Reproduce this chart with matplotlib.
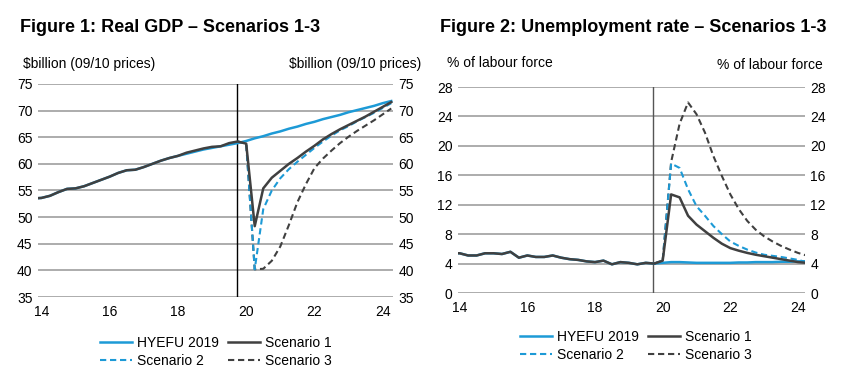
# Real GDP and unemployment under three COVID scenarios vs HYEFU 2019
import numpy as np
import matplotlib
matplotlib.use('Agg')
import matplotlib.pyplot as plt
from matplotlib.lines import Line2D

plt.rcParams['font.family'] = ['Liberation Sans', 'DejaVu Sans']

BLUE = '#1d9ad6'
DARK = '#404040'
GRID = '#a6a6a6'

# quarterly, years 13.75 .. 24.25
quarters = 13.75 + 0.25 * np.arange(43)

# Real GDP ($billion, 09/10 prices)
gdp_hist = [53.5, 53.6, 54.0, 54.7, 55.3, 55.4, 55.8, 56.4, 57.0, 57.6, 58.3,
            58.8, 58.9, 59.4, 60.0, 60.6, 61.1, 61.5, 62.1, 62.5, 62.9, 63.2,
            63.3, 63.9, 64.2]
gdp_hyefu = [53.5, 53.6, 54.0, 54.7, 55.3, 55.4, 55.8, 56.4, 57.0, 57.6, 58.3,
             58.8, 58.9, 59.4, 60.0, 60.6, 61.1, 61.5, 61.9, 62.3, 62.7, 63.0,
             63.3, 63.6, 63.9,
             64.3, 64.8, 65.2, 65.7, 66.1, 66.6, 67.0, 67.5, 67.9, 68.4, 68.8,
             69.2, 69.7, 70.1, 70.5, 70.9, 71.4, 71.8]
gdp_s1 = [63.8, 48.3, 55.4, 57.4, 58.7, 60.0, 61.1, 62.3, 63.4, 64.6, 65.6,
          66.5, 67.3, 68.1, 68.9, 69.8, 70.7, 71.6]
gdp_s2 = [63.8, 40.2, 51.5, 55.0, 57.3, 59.0, 60.4, 61.7, 63.0, 64.2, 65.3,
          66.3, 67.1, 68.0, 68.8, 69.6, 70.5, 71.4]
gdp_s3 = [63.8, 40.2, 40.3, 41.8, 44.5, 48.5, 52.8, 56.2, 59.2, 61.0, 62.5,
          63.9, 65.1, 66.2, 67.2, 68.2, 69.3, 70.4]

# Unemployment rate (% of labour force)
ur_hist = [5.4, 5.4, 5.1, 5.1, 5.4, 5.4, 5.3, 5.6, 4.8, 5.1, 4.9, 4.9, 5.1,
           4.8, 4.6, 4.5, 4.3, 4.2, 4.4, 3.9, 4.2, 4.1, 3.9, 4.1, 4.0]
ur_hyefu = [4.1, 4.2, 4.2, 4.15, 4.1, 4.1, 4.1, 4.1, 4.1, 4.15, 4.15, 4.2,
            4.2, 4.2, 4.25, 4.25, 4.3, 4.3]
ur_s1 = [4.4, 13.4, 13.0, 10.5, 9.3, 8.4, 7.5, 6.7, 6.1, 5.75, 5.45, 5.2,
         5.0, 4.8, 4.6, 4.4, 4.2, 4.1]
ur_s2 = [4.4, 17.6, 17.0, 14.1, 11.8, 10.5, 9.1, 8.0, 7.0, 6.4, 5.9, 5.5,
         5.2, 5.05, 4.9, 4.7, 4.5, 4.2]
ur_s3 = [4.4, 17.8, 23.0, 25.9, 24.3, 21.8, 18.6, 15.9, 13.4, 11.4, 9.8, 8.6,
         7.7, 7.0, 6.4, 5.9, 5.45, 5.1]

years = [14, 16, 18, 20, 22, 24]
nh = len(gdp_hist)
fq = quarters[nh - 1:]  # forecast, starting at last actual quarter
DASH = (0, (3, 1.8))


def style_axes(ax, ylim, yticks, xlim, vcol):
    ax.set_xlim(*xlim)
    ax.set_ylim(*ylim)
    ax.set_yticks(yticks)
    ax.set_xticks(years)
    ax.set_xticklabels([str(y) for y in years])
    for s in ax.spines.values():
        s.set_visible(False)
    ax.yaxis.grid(True, color=GRID, lw=1.3)
    ax.set_axisbelow(True)
    ax.tick_params(axis='y', length=0, labelleft=True, labelright=True,
                   pad=4, labelsize=10)
    ax.tick_params(axis='x', length=0, pad=6, labelsize=10)
    ax.axvline(19.72, color=vcol, lw=1.0, zorder=1)


fig = plt.figure(figsize=(8.5, 3.77), dpi=100)

# Figure 1
ax1 = fig.add_axes([0.0447, 0.2122, 0.4176, 0.565])
style_axes(ax1, (35, 75), range(35, 80, 5), (13.9, 24.3), 'black')
ax1.plot(quarters, gdp_hyefu, color=BLUE, lw=1.8, zorder=3)
ax1.plot(fq, [gdp_hist[-1]] + gdp_s3, color=DARK, lw=1.5, ls=DASH, zorder=4)
ax1.plot(fq, [gdp_hist[-1]] + gdp_s2, color=BLUE, lw=1.5, ls=DASH, zorder=4)
ax1.plot(quarters, gdp_hist + gdp_s1, color=DARK, lw=1.8, zorder=5)

# Figure 2
ax2 = fig.add_axes([0.5388, 0.2228, 0.408, 0.5464])
style_axes(ax2, (0, 28), range(0, 32, 4), (13.95, 24.2), '#555555')
ax2.plot(fq, [ur_hist[-1]] + ur_hyefu, color=BLUE, lw=1.8, zorder=3)
ax2.plot(fq, [ur_hist[-1]] + ur_s3, color=DARK, lw=1.5, ls=DASH, zorder=4)
ax2.plot(fq, [ur_hist[-1]] + ur_s2, color=BLUE, lw=1.5, ls=DASH, zorder=4)
ax2.plot(quarters[:nh], ur_hist, color=BLUE, lw=1.8, zorder=3)
ax2.plot(quarters, ur_hist + ur_s1, color=DARK, lw=1.8, zorder=5)

# titles and unit labels
fig.text(20 / 850, 1 - 27 / 377, 'Figure 1: Real GDP \u2013 Scenarios 1-3',
         fontsize=13, fontweight='bold', va='center', ha='left')
fig.text(440 / 850, 1 - 27 / 377, 'Figure 2: Unemployment rate \u2013 Scenarios 1-3',
         fontsize=13, fontweight='bold', va='center', ha='left')
fig.text(23 / 850, 1 - 64 / 377, '$billion (09/10 prices)', fontsize=10,
         va='center', ha='left')
fig.text(421 / 850, 1 - 64 / 377, '$billion (09/10 prices)', fontsize=10,
         va='center', ha='right')
fig.text(447 / 850, 1 - 63 / 377, '% of labour force', fontsize=10,
         va='center', ha='left')
fig.text(823 / 850, 1 - 65 / 377, '% of labour force', fontsize=10,
         va='center', ha='right')

# legends
handles = [Line2D([], [], color=BLUE, lw=1.8),
           Line2D([], [], color=BLUE, lw=1.5, ls=DASH),
           Line2D([], [], color=DARK, lw=1.8),
           Line2D([], [], color=DARK, lw=1.5, ls=DASH)]
labels = ['HYEFU 2019', 'Scenario 2', 'Scenario 1', 'Scenario 3']
for x0, y0 in [(100, 336), (520, 330)]:
    fig.legend(handles, labels, ncol=2, loc='upper left',
               bbox_to_anchor=(x0 / 850, 1 - y0 / 377), frameon=False,
               fontsize=10, handlelength=2.3, handletextpad=0.35,
               columnspacing=0.65, labelspacing=0.3, borderpad=0,
               borderaxespad=0)

fig.savefig('out.png', dpi=100)
